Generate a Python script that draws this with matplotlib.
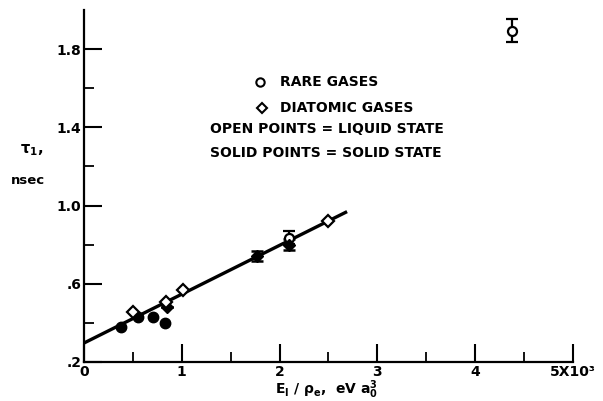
import numpy as np
import matplotlib.pyplot as plt

# rare gases (circles), solid = solid state, open = liquid state
rare_solid_x = [0.38, 0.555, 0.71, 0.83]
rare_solid_y = [0.38, 0.43, 0.432, 0.40]
rare_open_x = [2.10, 4.38]
rare_open_y = [0.835, 1.894]
rare_open_err = [0.033, 0.058]

# diatomic gases (diamonds)
diat_solid_x = [0.85, 1.77, 2.10]
diat_solid_y = [0.48, 0.74, 0.80]
diat_solid_err = [0.0, 0.026, 0.028]
diat_open_x = [0.50, 0.84, 1.015, 2.49]
diat_open_y = [0.458, 0.509, 0.566, 0.92]

# fitted line
fit_x = [0.0, 2.69]
fit_y = [0.297, 0.969]

legend_lines = ["RARE GASES", "DIATOMIC GASES",
                "OPEN POINTS = LIQUID STATE", "SOLID POINTS = SOLID STATE"]

plt.rcParams["font.family"] = "DejaVu Sans"
plt.rcParams["font.weight"] = "bold"
plt.rcParams["mathtext.default"] = "regular"

fig = plt.figure(figsize=(6.03, 4.01), dpi=100)
ax = fig.add_axes([0.1393, 0.0973, 0.8109, 0.8777])

ax.plot(fit_x, fit_y, color="black", lw=2.4, solid_capstyle="butt", zorder=2)

ax.errorbar(rare_open_x, rare_open_y, yerr=rare_open_err, fmt="o", ms=6.5,
            mfc="white", mec="black", mew=1.6, ecolor="black", elinewidth=1.6,
            capsize=4, capthick=1.8, zorder=3)
ax.plot(rare_solid_x, rare_solid_y, "o", ms=7.5, color="black", zorder=3)
ax.errorbar(diat_solid_x, diat_solid_y, yerr=diat_solid_err, fmt="D", ms=6,
            color="black", ecolor="black", elinewidth=1.6,
            capsize=4, capthick=1.8, zorder=3)
ax.plot(diat_open_x, diat_open_y, "D", ms=6, mfc="white", mec="black",
        mew=1.6, zorder=4)

ax.set_xlim(0, 5)
ax.set_ylim(0.2, 2.0)
ax.set_xticks([0, 1, 2, 3, 4, 5])
ax.set_xticklabels(["0", "1", "2", "3", "4", "5X10\u00b3"])
ax.set_xticks(np.arange(0.5, 5, 1.0), minor=True)
ax.set_yticks([0.2, 0.6, 1.0, 1.4, 1.8])
ax.set_yticklabels([".2", ".6", "1.0", "1.4", "1.8"])
ax.set_yticks([0.4, 0.8, 1.2, 1.6], minor=True)

for s in ["top", "right"]:
    ax.spines[s].set_visible(False)
for s in ["left", "bottom"]:
    ax.spines[s].set_linewidth(1.6)
ax.tick_params(which="major", direction="in", length=13, width=1.5,
               labelsize=10, pad=2)
ax.tick_params(which="minor", direction="in", length=7, width=1.3)

fig.text(0.542, 0.027, r"E$_I$ / $\rho_e$,  eV a$_0^3$", fontsize=10,
         ha="center", va="center")
fig.text(0.053, 0.626, r"$\tau_1$,", fontsize=10.5, ha="center", va="center")
fig.text(0.046, 0.549, "nsec", fontsize=9.5, ha="center", va="center")

# legend drawn as text with symbols
ax.plot([1.80], [1.63], "o", ms=6, mfc="white", mec="black", mew=1.5)
ax.text(2.00, 1.63, legend_lines[0], fontsize=10, va="center")
ax.plot([1.82], [1.50], "D", ms=5, mfc="white", mec="black", mew=1.5)
ax.text(2.00, 1.50, legend_lines[1], fontsize=10, va="center")
ax.text(1.29, 1.39, legend_lines[2], fontsize=10, va="center")
ax.text(1.29, 1.27, legend_lines[3], fontsize=10, va="center")

fig.savefig("out.png", dpi=100)
